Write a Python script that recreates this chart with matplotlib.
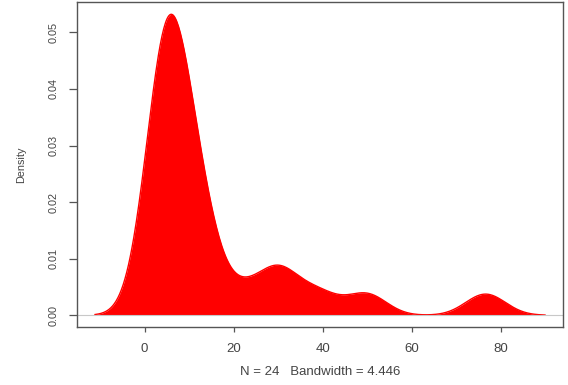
import numpy as np
import matplotlib
matplotlib.use("Agg")
import matplotlib.pyplot as plt

# observaciones (N = 24) y ancho de banda del kernel gaussiano
muestras = [2.2, 3.3, 3.6, 3.6, 3.9, 4.5, 5.0, 5.4, 5.5, 5.7, 6.6, 7.3,
            7.7, 8.8, 10.4, 12.4, 13.0, 13.7, 22.5, 30.1, 30.3, 39.0, 49.8, 76.5]
bw = 4.446
xticks = [0, 20, 40, 60, 80]
yticks = [0.00, 0.01, 0.02, 0.03, 0.04, 0.05]

datos = np.array(muestras)
n = len(datos)

# rejilla igual que density() de R: 512 puntos, de min-3bw a max+3bw
xs = np.linspace(datos.min() - 3 * bw, datos.max() + 3 * bw, 512)
z = (xs[:, None] - datos[None, :]) / bw
dens = np.exp(-0.5 * z ** 2).sum(axis=1) / (n * bw * np.sqrt(2 * np.pi))

plt.rcParams["font.family"] = ["Liberation Sans", "DejaVu Sans"]
gris = "#444444"

fig = plt.figure(figsize=(5.68, 3.85), dpi=100)
ax = fig.add_axes([0.1356, 0.1499, 0.8556, 0.8442])

ax.fill_between(xs, 0, dens, color="red", lw=0)
ax.plot(xs, dens, color="red", lw=1)
ax.axhline(0, color="#c8c8c8", lw=0.8)

# ejes con el 4% extra de R
dx = xs.max() - xs.min()
ax.set_xlim(xs.min() - 0.04 * dx, xs.max() + 0.04 * dx)
ax.set_ylim(-0.04 * dens.max(), 1.04 * dens.max())

ax.set_xticks(xticks)
ax.set_xticklabels([str(t) for t in xticks], fontsize=9.5, color=gris)
ax.set_yticks(yticks)
ax.set_yticklabels(["%.2f" % t for t in yticks], fontsize=7.8, color=gris,
                   rotation=90, va="center")
ax.tick_params(axis="x", length=3.8, width=0.9, color="#555555", pad=7.5)
ax.tick_params(axis="y", length=5.5, width=0.9, color="#555555", pad=8)

for sp in ax.spines.values():
    sp.set_color("#555555")
    sp.set_linewidth(1.0)

fig.text(320 / 568, 1 - 372 / 385, "N = %d   Bandwidth = %.3f" % (n, bw),
         ha="center", va="center", fontsize=9.5, color=gris)
fig.text(21 / 568, 1 - 165 / 385, "Density", rotation=90,
         ha="center", va="center", fontsize=7.8, color=gris)

fig.savefig("out.png", dpi=100)
